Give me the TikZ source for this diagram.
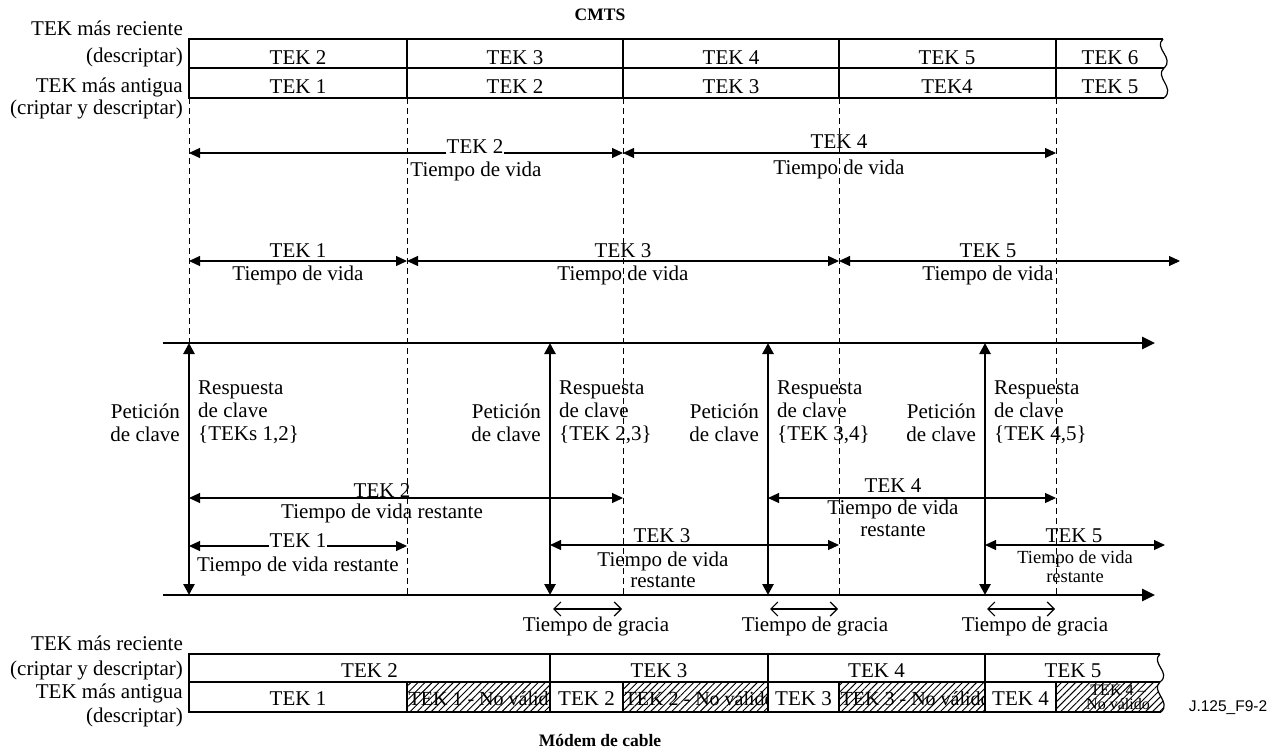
\documentclass[tikz,border=0pt]{standalone}
\usepackage{fontspec}
\setmainfont{Liberation Serif}
\newfontfamily\sansf{Liberation Sans}
\usetikzlibrary{arrows.meta,patterns.meta}
\begin{document}
\begin{tikzpicture}[x=1pt,y=-1pt,
  txt/.style={font=\fontsize{21}{23}\selectfont,inner sep=0pt},
  hatchtxt/.style={font=\fontsize{20}{23}\selectfont,inner sep=0pt},
  smalltxt/.style={font=\fontsize{18.5}{20}\selectfont,inner sep=0pt},
  tinytxt/.style={font=\fontsize{16}{14}\selectfont,inner sep=0pt,align=center},
  ttl/.style={font=\fontsize{17.5}{20}\selectfont\bfseries,inner sep=0pt},
  onl/.style={txt,fill=white,inner xsep=1pt,inner ysep=1.5pt},
  barline/.style={line width=1.2pt},
  vdash/.style={line width=1pt,dash pattern=on 6pt off 4pt},
  life/.style={line width=1.1pt,{Triangle[length=11pt,width=10pt]}-{Triangle[length=11pt,width=10pt]}},
  req/.style={line width=2.6pt,{Triangle[length=11pt,width=11pt]}-{Triangle[length=11pt,width=11pt]}},
  axisline/.style={line width=2.6pt,-{Triangle[length=13pt,width=12pt]}},
  grace/.style={line width=1.2pt,{Straight Barb[length=7pt,width=14pt]}-{Straight Barb[length=7pt,width=14pt]}},
  hatch/.style={pattern={Lines[angle=45,distance=5pt,line width=0.95pt]}}
]
\useasboundingbox (0,0) rectangle (1281,754);

% ---------- titles ----------
\node[ttl] (cmts) at (600,15) {CMTS};
\node[ttl] (modem) at (600,740) {Módem de cable};
\node[inner sep=0pt,font=\sansf\fontsize{15.5}{18}\selectfont] (fig) at (1228,708) {J.125\_F9-2};

% ---------- top (CMTS) bars ----------
\node[txt,anchor=base east] (tl1) at (183,36) {TEK más reciente};
\node[txt,anchor=base east] (tl2) at (183,63) {(descriptar)};
\node[txt,anchor=base east] (tl3) at (183,93) {TEK más antigua};
\node[txt,anchor=base east] (tl4) at (183,115) {(criptar y descriptar)};

\draw[barline] (1163,39) -- (189,39) -- (189,98) -- (1164,98);
\draw[barline] (189,68) -- (1164,68);
\draw[barline] (1163,39) .. controls (1153,48) and (1175,58) .. (1164,68)
                         .. controls (1154,77) and (1176,88) .. (1164,98);
\foreach \x in {407,623,839,1056} \draw[barline] (\x,39) -- (\x,98);

\foreach \x/\t [count=\i] in {298/TEK 2,515/TEK 3,731/TEK 4,947/TEK 5,1110/TEK 6}
  \node[txt,anchor=base] (ta\i) at (\x,65) {\t};
\foreach \x/\t [count=\i] in {298/TEK 1,515/TEK 2,731/TEK 3,947/TEK4,1110/TEK 5}
  \node[txt,anchor=base] (tb\i) at (\x,94) {\t};

% ---------- dashed time marks ----------
\draw[vdash] (189,98) -- (189,343);
\foreach \x in {407,623,839,1056} \draw[vdash] (\x,98) -- (\x,595);

% ---------- TEK lifetimes ----------
\coordinate (la1) at (189,153); \coordinate (la2) at (623,153); \coordinate (la3) at (1056,153);
\draw[life] (la1) -- (la2);
\draw[life] (la2) -- (la3);
\node[onl,anchor=base] (l2a) at (475,154) {TEK 2};
\node[txt,anchor=base] (l2b) at (476,176) {Tiempo de vida};
\node[txt,anchor=base] (l4a) at (839,149) {TEK 4};
\node[txt,anchor=base] (l4b) at (839,175) {Tiempo de vida};

\coordinate (lb1) at (189,261); \coordinate (lb2) at (407,261);
\coordinate (lb3) at (839,261); \coordinate (lb4) at (1180,261);
\draw[life] (lb1) -- (lb2);
\draw[life] (lb2) -- (lb3);
\draw[life] (lb3) -- (lb4);
\node[txt,anchor=base] (l1a) at (298,257) {TEK 1};
\node[txt,anchor=base] (l1b) at (298,280) {Tiempo de vida};
\node[txt,anchor=base] (l3a) at (623,257) {TEK 3};
\node[txt,anchor=base] (l3b) at (623,280) {Tiempo de vida};
\node[txt,anchor=base] (l5a) at (988,257) {TEK 5};
\node[txt,anchor=base] (l5b) at (988,280) {Tiempo de vida};

% ---------- time axes ----------
\coordinate (ax1) at (163,343); \coordinate (ax2) at (1155,343);
\coordinate (bx1) at (163,595); \coordinate (bx2) at (1155,595);
\draw[axisline] (ax1) -- (ax2);
\draw[axisline] (bx1) -- (bx2);

% ---------- key requests / responses ----------
\foreach \x/\r [count=\i] in {189/{TEKs 1,2},550/{TEK 2,3},768/{TEK 3,4},985/{TEK 4,5}}{
  \coordinate (rq\i t) at (\x,343);
  \coordinate (rq\i b) at (\x,595);
  \draw[req] (rq\i t) -- (rq\i b);
  \node[txt,align=right,anchor=north east] (pet\i) at (\x-9,403.5) {Petición\\de clave};
  \node[txt,align=left,anchor=north west] (resp\i) at (\x+9,381) {Respuesta\\de clave\\\{\r\}};
}

% ---------- remaining lifetimes ----------
\coordinate (r2a) at (189,498); \coordinate (r2b) at (623,498);
\draw[life] (r2a) -- (r2b);
\node[txt,anchor=base] (r2l) at (382,497) {TEK 2};
\node[txt,anchor=base] (r2t) at (382,518) {Tiempo de vida restante};

\coordinate (r1a) at (189,546); \coordinate (r1b) at (407,546);
\draw[life] (r1a) -- (r1b);
\node[onl,anchor=base] (r1l) at (298,547) {TEK 1};
\node[txt,anchor=base] (r1t) at (298,571) {Tiempo de vida restante};

\coordinate (r3a) at (550,545); \coordinate (r3b) at (839,545);
\draw[life] (r3a) -- (r3b);
\node[txt,anchor=base] (r3l) at (662,542) {TEK 3};
\node[txt,anchor=base] (r3t) at (663,566) {Tiempo de vida};
\node[txt,anchor=base] (r3u) at (663,587) {restante};

\coordinate (r4a) at (768,498); \coordinate (r4b) at (1056,498);
\draw[life] (r4a) -- (r4b);
\node[txt,anchor=base] (r4l) at (893,492) {TEK 4};
\node[txt,anchor=base] (r4t) at (893,514) {Tiempo de vida};
\node[txt,anchor=base] (r4u) at (893,536) {restante};

\coordinate (r5a) at (985,545); \coordinate (r5b) at (1165,545);
\draw[life] (r5a) -- (r5b);
\node[txt,anchor=base] (r5l) at (1074,542) {TEK 5};
\node[smalltxt,anchor=base] (r5t) at (1075,563) {Tiempo de vida};
\node[smalltxt,anchor=base] (r5u) at (1075,582) {restante};

% ---------- grace times ----------
\foreach \a/\b/\c [count=\i] in {553/622/596,770/838/815,987/1055/1035}{
  \coordinate (g\i a) at (\a,609);
  \coordinate (g\i b) at (\b,609);
  \draw[grace] (g\i a) -- (g\i b);
  \node[txt,anchor=base] (gl\i) at (\c,631) {Tiempo de gracia};
}

% ---------- bottom (cable modem) bars ----------
\node[txt,anchor=base east] (bl1) at (183,650) {TEK más reciente};
\node[txt,anchor=base east] (bl2) at (183,675) {(criptar y descriptar)};
\node[txt,anchor=base east] (bl3) at (183,698) {TEK más antigua};
\node[txt,anchor=base east] (bl4) at (183,722) {(descriptar)};

% hatched (invalid) cells
\foreach \a/\b/\t [count=\i] in {407/550/TEK 1,623/768/TEK 2,839/985/TEK 3}{
  \begin{scope}
    \clip (\a,682) rectangle (\b,712);
    \node[hatchtxt,anchor=base west] (nv\i) at (\a+1.5,705) {\t\ - No válido};
  \end{scope}
  \fill[hatch] (\a,682) rectangle (\b,712);
}
\begin{scope}
  \clip (1056,682) -- (1160,682) .. controls (1150,691) and (1172,702) .. (1161,712) -- (1056,712) -- cycle;
  \node[tinytxt] (nv4) at (1118,697) {TEK 4 –\\No válido};
\end{scope}
\fill[hatch] (1056,682) -- (1160,682) .. controls (1150,691) and (1172,702) .. (1161,712) -- (1056,712) -- cycle;

\draw[barline] (1160,654) -- (189,654) -- (189,712) -- (1161,712);
\draw[barline] (189,682) -- (1160,682);
\draw[barline] (1160,654) .. controls (1150,663) and (1172,673) .. (1160,682)
                         .. controls (1150,691) and (1172,702) .. (1161,712);
\foreach \x in {550,768,985} \draw[barline] (\x,654) -- (\x,712);
\foreach \x in {407,623,839,1056} \draw[barline] (\x,682) -- (\x,712);

\foreach \x/\t [count=\i] in {369.5/TEK 2,659/TEK 3,876.5/TEK 4,1073/TEK 5}
  \node[txt,anchor=base] (ba\i) at (\x,677) {\t};
\foreach \x/\t [count=\i] in {298/TEK 1,586.5/TEK 2,803.5/TEK 3,1020.5/TEK 4}
  \node[txt,anchor=base] (bb\i) at (\x,705) {\t};

\end{tikzpicture}
\end{document}
